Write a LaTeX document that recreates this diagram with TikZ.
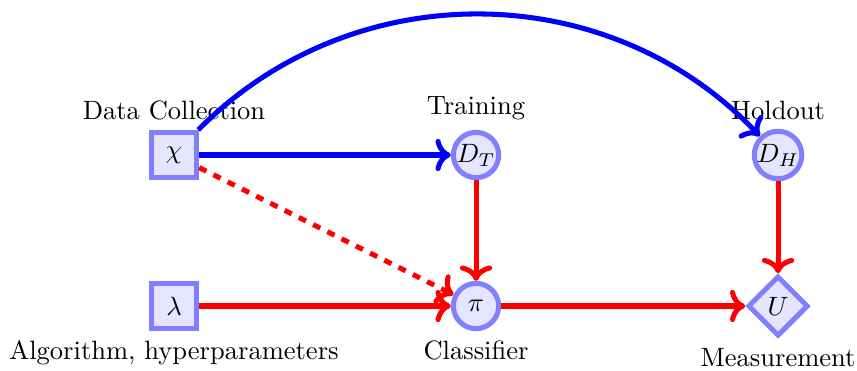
\documentclass[tikz,border=0pt]{standalone}
\usetikzlibrary{shapes.geometric,arrows.meta}
\begin{document}
\begin{tikzpicture}[x=1cm,y=1cm,
  vbox/.style={draw=blue!50,fill=blue!10,line width=1.9pt,rectangle,minimum size=6mm,inner sep=0pt},
  vcirc/.style={draw=blue!50,fill=blue!10,line width=1.9pt,circle,minimum size=6mm,inner sep=0pt},
  vdia/.style={draw=blue!50,fill=blue!10,line width=1.9pt,diamond,minimum size=8mm,inner sep=0pt},
  barrow/.style={->,draw=blue,line width=1.9pt},
  rarrow/.style={->,draw=red,line width=1.9pt},
  rdash/.style={->,draw=red,line width=1.9pt,dashed}]
\useasboundingbox (-2.305,-2.848) rectangle (9.046,2.053);
\node[vbox,label=above:Data Collection] (chi) at (0,0) {$\chi$};
\node[vcirc,label=above:Training] (DT) at (4,0) {$D_T$};
\node[vcirc,label=above:Holdout] (DH) at (8,0) {$D_H$};
\node[vbox,label=below:{Algorithm, hyperparameters}] (lam) at (0,-2) {$\lambda$};
\node[vcirc,label=below:Classifier] (pi) at (4,-2) {$\pi$};
\node[vdia,label=below:Measurement] (U) at (8,-2) {$U$};
\draw[barrow] (chi) -- (DT);
\draw[barrow] (chi) to[bend left=46] (DH);
\draw[rdash] (chi) -- (pi);
\draw[rarrow] (DT) -- (pi);
\draw[rarrow] (lam) -- (pi);
\draw[rarrow] (pi) -- (U);
\draw[rarrow] (DH) -- (U);
\end{tikzpicture}
\end{document}
